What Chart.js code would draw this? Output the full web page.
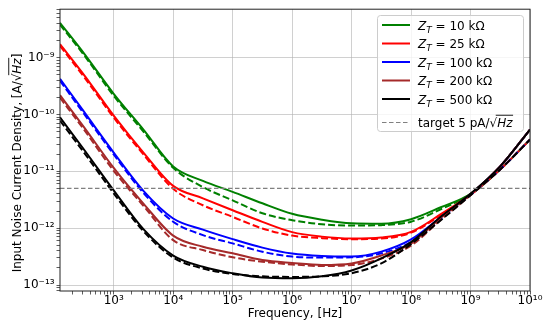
<!DOCTYPE html>
<html>
<head>
<meta charset="utf-8">
<script src="https://cdn.jsdelivr.net/npm/chart.js@4.4.0/dist/chart.umd.min.js"></script>
<style>
  html, body { margin: 0; padding: 0; background: #fff; }
  #wrap { width: 550px; height: 327px; }
</style>
</head>
<body>
<div id="wrap"><canvas id="chart" width="550" height="327"></canvas></div>
<script>
// Frequencies (Hz) at which the curves were read, half-decade steps
const FREQ = [125, 316, 1e3, 3.16e3, 1e4, 3.16e4, 1e5, 3.16e5, 1e6, 3.16e6, 1e7, 3.16e7, 1e8, 3.16e8, 1e9, 3.16e9, 1e10];

const ZT_LABELS = ['10 kΩ', '25 kΩ', '100 kΩ', '200 kΩ', '500 kΩ'];
const COLORS = ['#008000', '#ff0000', '#0000ff', '#a52a2a', '#000000'];

// Input noise current density, A/sqrt(Hz) -- solid curves
const NOISE_10K  = [4.10e-9, 1.19e-9, 2.31e-10, 5.42e-11, 1.22e-11, 6.78e-12, 4.35e-12, 2.74e-12, 1.79e-12, 1.41e-12, 1.22e-12, 1.20e-12, 1.44e-12, 2.33e-12, 4.02e-12, 1.22e-11, 5.42e-11];
const NOISE_25K  = [1.72e-9, 4.98e-10, 9.53e-11, 2.14e-11, 5.55e-12, 3.35e-12, 2.07e-12, 1.29e-12, 8.51e-13, 7.10e-13, 6.60e-13, 6.87e-13, 8.61e-13, 1.76e-12, 3.94e-12, 1.22e-11, 5.42e-11];
const NOISE_100K = [4.24e-10, 1.12e-10, 2.14e-11, 4.53e-12, 1.48e-12, 9.42e-13, 6.41e-13, 4.55e-13, 3.57e-13, 3.24e-13, 3.17e-13, 3.87e-13, 6.34e-13, 1.56e-12, 3.94e-12, 1.22e-11, 5.42e-11];
const NOISE_200K = [2.18e-10, 6.00e-11, 1.15e-11, 2.71e-12, 7.40e-13, 4.71e-13, 3.61e-13, 2.75e-13, 2.44e-13, 2.25e-13, 2.39e-13, 3.30e-13, 5.36e-13, 1.53e-12, 3.94e-12, 1.22e-11, 5.42e-11];
const NOISE_500K = [8.89e-11, 2.42e-11, 4.63e-12, 9.60e-13, 3.30e-13, 2.10e-13, 1.61e-13, 1.35e-13, 1.31e-13, 1.42e-13, 1.80e-13, 2.94e-13, 5.69e-13, 1.59e-12, 4.02e-12, 1.22e-11, 5.42e-11];

// dashed curves (same Z_T, second model)
const NOISE_10K_DASH  = [3.81e-9, 1.11e-9, 2.13e-10, 5.0e-11, 1.15e-11, 5.28e-12, 3.09e-12, 1.83e-12, 1.38e-12, 1.17e-12, 1.11e-12, 1.13e-12, 1.30e-12, 2.15e-12, 3.94e-12, 1.08e-11, 3.62e-11];
const NOISE_25K_DASH  = [1.60e-9, 4.59e-10, 8.79e-11, 1.98e-11, 4.92e-12, 2.53e-12, 1.58e-12, 9.88e-13, 7.40e-13, 6.68e-13, 6.41e-13, 6.55e-13, 8.34e-13, 1.69e-12, 3.86e-12, 1.08e-11, 3.62e-11];
const NOISE_100K_DASH = [3.91e-10, 1.03e-10, 1.98e-11, 4.17e-12, 1.30e-12, 7.54e-13, 5.40e-13, 3.85e-13, 3.17e-13, 3.04e-13, 3.07e-13, 3.61e-13, 5.75e-13, 1.47e-12, 3.86e-12, 1.08e-11, 3.62e-11];
const NOISE_200K_DASH = [1.97e-10, 5.42e-11, 1.02e-11, 2.48e-12, 6.17e-13, 4.12e-13, 3.07e-13, 2.57e-13, 2.30e-13, 2.16e-13, 2.25e-13, 2.92e-13, 4.94e-13, 1.41e-12, 3.79e-12, 1.08e-11, 3.62e-11];
const NOISE_500K_DASH = [7.78e-11, 2.14e-11, 4.10e-12, 8.85e-13, 3.04e-13, 1.95e-13, 1.56e-13, 1.42e-13, 1.39e-13, 1.42e-13, 1.61e-13, 2.41e-13, 5.25e-13, 1.38e-12, 3.79e-12, 1.08e-11, 3.62e-11];

const TARGET = 5e-12;   // 5 pA/sqrt(Hz)

// axis limits and major tick labels
const X_MIN = 125, X_MAX = 1e10;
const Y_MIN = 7.85e-14, Y_MAX = 7.1e-9;
const X_TICKS = [1e3, 1e4, 1e5, 1e6, 1e7, 1e8, 1e9, 1e10];
const X_TICK_LABELS = ['10³', '10⁴', '10⁵', '10⁶', '10⁷', '10⁸', '10⁹', '10¹⁰'];
const Y_TICKS = [1e-13, 1e-12, 1e-11, 1e-10, 1e-9];
const Y_TICK_LABELS = ['10⁻¹³', '10⁻¹²', '10⁻¹¹', '10⁻¹⁰', '10⁻⁹'];

const FONT = '"DejaVu Sans", sans-serif';

const SOLID = [NOISE_10K, NOISE_25K, NOISE_100K, NOISE_200K, NOISE_500K];
const DASHED = [NOISE_10K_DASH, NOISE_25K_DASH, NOISE_100K_DASH, NOISE_200K_DASH, NOISE_500K_DASH];

const points = (ys) => FREQ.map((f, i) => ({x: f, y: ys[i]}));

// plotting order: solid then dashed per Z_T, later ones on top
const datasets = [];
SOLID.forEach((ys, i) => {
    datasets.push({ data: points(ys), borderColor: COLORS[i], borderWidth: 2 });
    datasets.push({ data: points(DASHED[i]), borderColor: COLORS[i], borderWidth: 2, borderDash: [7, 3] });
});
datasets.push({
    data: [{x: X_MIN, y: TARGET}, {x: X_MAX, y: TARGET}],
    borderColor: '#808080', borderWidth: 1.2, borderDash: [4.5, 2.5]
});
datasets.forEach((d, i) => {
    d.order = datasets.length - i;
    d.pointRadius = 0;
    d.fill = false;
    d.cubicInterpolationMode = 'monotone';
});

// majors at decades, minors at 2..9 x decade
function logTicks(min, max) {
    const out = [];
    for (let n = Math.floor(Math.log10(min)); n <= Math.ceil(Math.log10(max)); n++) {
        for (let k = 1; k < 10; k++) {
            const v = k * Math.pow(10, n);
            if (v >= min * 0.999 && v <= max * 1.001) out.push({ value: v, major: k === 1 });
        }
    }
    return out;
}

function labelFor(v, ticks, labels) {
    const i = ticks.findIndex(t => Math.abs(t / v - 1) < 1e-6);
    return i >= 0 ? labels[i] : '';
}

// mixed-style text: runs of {t, it, sz, dy, root, over}
function richWidth(ctx, runs, size) {
    let w = 0;
    runs.forEach(r => {
        ctx.font = (r.it ? 'italic ' : '') + (r.sz || size) + 'px ' + FONT;
        w += ctx.measureText(r.t).width;
    });
    return w;
}

function drawRich(ctx, runs, x, y, size) {
    let cx = x, overStart = x;
    runs.forEach(r => {
        ctx.font = (r.it ? 'italic ' : '') + (r.sz || size) + 'px ' + FONT;
        const w = ctx.measureText(r.t).width;
        ctx.fillText(r.t, cx, y + (r.dy || 0));
        if (r.root) overStart = cx + w * 0.8;
        if (r.over) {
            ctx.beginPath();
            ctx.lineWidth = 0.9;
            ctx.moveTo(overStart, y - size * 0.98);
            ctx.lineTo(cx + w + 0.5, y - size * 0.98);
            ctx.stroke();
        }
        cx += w;
    });
}

const Y_TITLE = [{t: 'Input Noise Current Density, [A/'}, {t: '√', root: true}, {t: 'Hz', it: true, over: true}, {t: ']'}];
const TARGET_LABEL = [{t: 'target 5 pA/'}, {t: '√', root: true}, {t: 'Hz', it: true, over: true}];

const overlay = {
    id: 'overlay',
    afterDraw(chart) {
        const { ctx, chartArea: a } = chart;
        ctx.save();
        ctx.fillStyle = '#000';
        ctx.strokeStyle = '#000';

        // axes frame
        ctx.strokeStyle = '#222';
        ctx.lineWidth = 1;
        ctx.strokeRect(a.left, a.top, a.right - a.left, a.bottom - a.top);

        // y axis title
        ctx.save();
        ctx.strokeStyle = '#000';
        ctx.textBaseline = 'alphabetic';
        const w = richWidth(ctx, Y_TITLE, 12);
        ctx.translate(16, 163);
        ctx.rotate(-Math.PI / 2);
        drawRich(ctx, Y_TITLE, -w / 2, 4.5, 12);
        ctx.restore();

        // legend box
        ctx.beginPath();
        if (ctx.roundRect) ctx.roundRect(377.5, 15.5, 146, 116, 3);
        else ctx.rect(377.5, 15.5, 146, 116);
        ctx.fillStyle = 'rgba(255,255,255,0.8)';
        ctx.fill();
        ctx.strokeStyle = '#cccccc';
        ctx.lineWidth = 1;
        ctx.stroke();

        ctx.textBaseline = 'alphabetic';
        ZT_LABELS.forEach((lab, i) => {
            const cy = 25 + i * 18.5;
            ctx.beginPath();
            ctx.strokeStyle = COLORS[i];
            ctx.lineWidth = 2;
            ctx.moveTo(382, cy);
            ctx.lineTo(410, cy);
            ctx.stroke();
            ctx.fillStyle = '#000';
            drawRich(ctx, [{t: 'Z', it: true}, {t: 'T', it: true, sz: 9, dy: 3}, {t: ' = ' + lab}], 418, cy + 4.5, 12);
        });
        const ty = 122.5;
        ctx.beginPath();
        ctx.setLineDash([4.5, 2.5]);
        ctx.strokeStyle = '#808080';
        ctx.lineWidth = 1.2;
        ctx.moveTo(382, ty);
        ctx.lineTo(410, ty);
        ctx.stroke();
        ctx.setLineDash([]);
        ctx.strokeStyle = '#000';
        ctx.fillStyle = '#000';
        drawRich(ctx, TARGET_LABEL, 418, ty + 4.5, 12);

        ctx.restore();
    }
};

const gridColor = (c) => (c.tick && c.tick.major ? 'rgba(176,176,176,0.75)' : 'rgba(0,0,0,0)');

new Chart(document.getElementById('chart'), {
    type: 'line',
    data: { datasets: datasets },
    options: {
        responsive: false,
        animation: false,
        devicePixelRatio: 1,
        layout: { padding: { left: 0, right: 20, top: 8, bottom: 0 } },
        plugins: { legend: { display: false }, tooltip: { enabled: false } },
        scales: {
            x: {
                type: 'logarithmic',
                min: X_MIN,
                max: X_MAX,
                afterBuildTicks: (s) => { s.ticks = logTicks(X_MIN, X_MAX); },
                afterFit: (s) => { s.height = 36; },
                border: { display: false },
                grid: { color: gridColor, lineWidth: 0.8, tickLength: 3.5, tickColor: '#333' },
                ticks: {
                    autoSkip: false, maxRotation: 0, padding: -1,
                    color: '#000', font: { family: FONT, size: 12 },
                    callback: (v) => labelFor(v, X_TICKS, X_TICK_LABELS)
                },
                title: {
                    display: true, text: 'Frequency, [Hz]', color: '#000',
                    font: { family: FONT, size: 12 }, padding: { top: 0, bottom: 6 }
                }
            },
            y: {
                type: 'logarithmic',
                min: Y_MIN,
                max: Y_MAX,
                afterBuildTicks: (s) => { s.ticks = logTicks(Y_MIN, Y_MAX); },
                afterFit: (s) => { s.width = 60; },
                border: { display: false },
                grid: { color: gridColor, lineWidth: 0.8, tickLength: 3.5, tickColor: '#333' },
                ticks: {
                    autoSkip: false, padding: 2,
                    color: '#000', font: { family: FONT, size: 12 },
                    callback: (v) => labelFor(v, Y_TICKS, Y_TICK_LABELS)
                }
            }
        }
    },
    plugins: [overlay]
});
</script>
</body>
</html>
